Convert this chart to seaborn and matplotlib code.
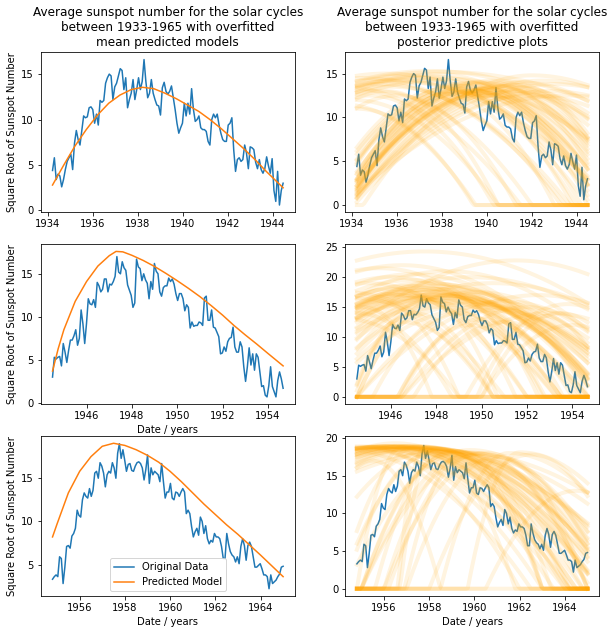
import numpy as np
import pandas as pd
import matplotlib
matplotlib.use("Agg")
import matplotlib.pyplot as plt
from matplotlib.ticker import MultipleLocator
import seaborn as sns

# ---- observed data: square root of monthly sunspot number, three cycles ----
cycle1_span = (1934.22, 1944.47)
cycle1_sqrt = [4.4, 5.8, 3.4, 4.0, 3.8, 2.6, 3.4, 4.5, 5.4, 5.8,
               6.2, 4.5, 7.4, 8.8, 7.8, 7.2, 8.8, 10.4, 10.2, 10.3,
               11.3, 11.4, 11.1, 9.6, 10.6, 9.4, 12.1, 11.9, 12.1, 14.0,
               14.6, 15.0, 14.8, 12.2, 13.6, 14.0, 14.8, 15.6, 15.4, 13.3,
               14.6, 11.3, 12.2, 12.9, 14.4, 12.2, 13.3, 14.6, 13.3, 14.2,
               16.6, 14.2, 12.4, 12.9, 14.4, 12.9, 12.2, 11.6, 11.5, 10.5,
               13.5, 14.1, 13.1, 12.8, 13.1, 13.7, 12.4, 11.1, 9.6, 8.5,
               9.1, 9.6, 11.8, 10.4, 11.8, 10.6, 13.4, 11.1, 9.8, 10.0,
               10.4, 9.1, 8.9, 8.9, 8.7, 7.6, 7.2, 10.0, 10.6, 10.2,
               10.6, 9.4, 8.5, 7.8, 7.6, 7.6, 9.4, 9.6, 10.2, 6.7,
               4.3, 5.6, 5.8, 5.4, 5.6, 7.2, 6.3, 4.6, 7.0, 6.9,
               6.7, 5.3, 4.6, 5.6, 4.5, 4.1, 4.6, 5.9, 4.9, 4.1,
               5.7, 2.2, 1.0, 4.3, 0.6, 2.2, 3.0]

cycle2_span = (1944.5, 1954.67)
cycle2_sqrt = [3.0, 5.3, 5.1, 5.3, 5.4, 4.3, 6.9, 5.9, 4.7, 6.1,
               7.3, 7.3, 7.8, 8.5, 6.7, 7.5, 10.8, 9.2, 6.9, 9.2,
               12.1, 11.5, 11.4, 12.0, 11.1, 14.0, 13.6, 12.9, 13.2, 14.4,
               14.4, 12.9, 13.8, 13.7, 14.1, 14.7, 17.0, 15.2, 15.0, 16.4,
               15.7, 15.4, 13.7, 13.1, 12.5, 11.1, 11.6, 16.7, 15.8, 15.6,
               14.2, 15.0, 14.3, 13.9, 12.1, 14.1, 13.2, 16.2, 15.3, 15.0,
               12.9, 12.4, 13.4, 13.6, 13.6, 14.5, 14.1, 14.4, 13.8, 12.7,
               11.9, 12.7, 12.7, 12.1, 10.7, 11.4, 11.1, 8.7, 9.4, 8.9,
               9.0, 9.0, 9.4, 9.3, 9.0, 12.2, 12.4, 9.6, 9.6, 10.8,
               8.8, 8.7, 8.2, 7.7, 5.7, 5.8, 6.5, 6.0, 7.1, 7.5,
               7.6, 8.8, 6.5, 5.9, 5.9, 7.1, 6.5, 4.2, 2.5, 4.2,
               6.4, 4.4, 5.7, 3.8, 5.7, 5.3, 3.6, 1.9, 2.0, 0.9,
               0.7, 2.0, 4.2, 1.9, 1.3, 0.7, 2.6, 3.6, 2.8, 1.7]

cycle3_span = (1954.8, 1965.0)
cycle3_sqrt = [3.3, 3.6, 3.8, 3.6, 5.9, 5.7, 2.8, 4.7, 7.1, 7.2,
               6.9, 8.3, 8.6, 9.2, 11.3, 10.7, 10.5, 12.5, 13.3, 12.9,
               12.7, 13.8, 12.9, 13.6, 15.6, 15.8, 15.0, 16.8, 16.4, 15.6,
               14.0, 15.4, 15.8, 15.6, 16.8, 16.2, 15.0, 17.9, 19.0, 17.3,
               18.3, 17.1, 15.8, 16.6, 16.7, 15.9, 15.8, 16.4, 16.8, 16.9,
               16.7, 16.2, 14.8, 16.0, 17.7, 14.4, 16.2, 15.4, 15.8, 15.6,
               15.4, 14.6, 16.7, 14.6, 12.7, 13.4, 13.4, 14.4, 12.7, 12.5,
               13.4, 13.3, 12.9, 13.4, 13.8, 13.4, 10.9, 11.3, 10.9, 9.4,
               8.2, 8.8, 9.2, 8.4, 10.5, 10.0, 8.6, 9.5, 8.0, 7.4,
               7.8, 7.6, 8.6, 8.2, 8.2, 8.0, 7.1, 5.7, 5.7, 8.6,
               7.4, 6.5, 6.1, 5.9, 5.3, 5.9, 5.1, 7.1, 8.0, 7.2,
               5.5, 7.2, 7.6, 7.1, 5.9, 4.7, 4.7, 4.9, 5.1, 4.5,
               3.8, 3.8, 3.6, 2.2, 3.8, 2.8, 3.0, 3.2, 3.6, 3.9,
               4.7, 4.8]

# year ticks shown under each row
cycle1_ticks = [1934, 1936, 1938, 1940, 1942, 1944]
cycle2_ticks = [1946, 1948, 1950, 1952, 1954]
cycle3_ticks = [1956, 1958, 1960, 1962, 1964]

# ---- mean predicted model ----
model1_years = [1934.22, 1934.72, 1935.22, 1935.72, 1936.22, 1936.72, 1937.22, 1937.72,
                1938.22, 1938.72, 1939.22, 1939.72, 1940.22, 1940.72, 1941.22, 1941.72,
                1942.22, 1942.72, 1943.22, 1943.72, 1944.22, 1944.47]
model1_sqrt = [2.8, 5.0, 7.1, 8.9, 10.5, 11.8, 12.7, 13.3,
               13.55, 13.4, 12.9, 12.3, 11.6, 10.9, 10.0, 9.0,
               7.9, 6.8, 5.6, 4.3, 3.1, 2.5]

model2_years = [1944.5, 1944.75, 1945.0, 1945.5, 1946.0, 1946.5, 1947.0, 1947.3,
                1947.6, 1948.0, 1948.5, 1949.0, 1949.5, 1950.0, 1950.5, 1951.0,
                1951.5, 1952.0, 1952.5, 1953.0, 1953.5, 1954.0, 1954.67]
model2_sqrt = [3.7, 6.3, 8.5, 11.8, 14.1, 15.9, 17.1, 17.6,
               17.55, 17.15, 16.55, 15.85, 15.05, 14.2, 13.3, 12.35,
               11.3, 10.2, 9.0, 7.9, 6.85, 5.75, 4.3]

model3_years = [1954.8, 1955.0, 1955.25, 1955.5, 1956.0, 1956.5, 1957.0, 1957.5,
                1958.0, 1958.5, 1959.0, 1959.5, 1960.0, 1960.5, 1961.0, 1961.5,
                1962.0, 1962.5, 1963.0, 1963.5, 1964.0, 1964.5, 1965.0]
model3_sqrt = [8.2, 9.7, 11.5, 13.3, 15.8, 17.5, 18.7, 19.05,
               18.8, 18.3, 17.65, 16.85, 15.8, 14.6, 13.3, 12.0,
               10.8, 9.6, 8.5, 7.3, 6.1, 4.85, 3.6]

# ---- posterior draws: peak year, peak height, half-width before / after peak ----
post1_peak = [1939.0, 1939.5, 1939.8, 1940.2, 1938.8, 1939.2, 1940.0, 1940.6, 1941.0, 1938.4,
              1938.0, 1939.6, 1940.3, 1939.4, 1938.6, 1934.5, 1935.5, 1936.0, 1933.5, 1935.0,
              1936.8, 1937.5, 1934.0, 1933.5, 1936.5, 1935.8, 1938.0, 1934.2, 1934.8, 1935.5,
              1936.0, 1937.0, 1942.0, 1942.5, 1941.5, 1943.0, 1942.8, 1943.5, 1941.0, 1942.0,
              1939.3, 1939.9, 1940.4, 1939.7, 1940.8, 1938.9, 1940.1, 1941.3, 1939.1, 1940.5,
              1938.2, 1941.6, 1937.0, 1936.2, 1937.8, 1935.2, 1938.5]
post1_height = [13.2, 13.0, 12.8, 12.5, 13.6, 13.4, 13.8, 13.2, 13.5, 13.0,
                12.7, 14.0, 14.2, 13.1, 12.9, 14.5, 15.0, 14.2, 13.5, 13.0,
                14.8, 15.3, 12.0, 11.5, 14.0, 13.5, 15.2, 11.0, 12.5, 13.0,
                12.5, 14.5, 12.5, 14.2, 14.0, 13.8, 13.0, 12.5, 13.0, 14.8,
                13.0, 13.3, 12.9, 12.6, 13.6, 12.8, 14.0, 13.7, 13.9, 13.4,
                13.3, 13.0, 14.6, 14.3, 14.9, 13.8, 14.4]
post1_wl = [5.6, 6.0, 6.3, 6.5, 6.2, 5.8, 6.4, 7.0, 7.4, 5.2,
            4.8, 6.8, 7.6, 5.9, 5.0, 9.0, 10.0, 9.5, 8.0, 7.0,
            11.0, 12.0, 6.5, 6.0, 8.0, 7.5, 14.0, 5.2, 5.5, 5.0,
            5.3, 9.0, 8.06, 8.6, 7.6, 9.2, 8.7, 9.8, 7.0, 7.5,
            5.4, 6.1, 6.6, 5.9, 7.2, 5.3, 6.9, 7.9, 6.4, 6.8,
            5.6, 7.6, 10.0, 9.0, 11.0, 8.0, 12.0]
post1_wr = [5.6, 6.0, 6.3, 6.5, 6.2, 6.0, 6.6, 7.0, 7.4, 5.4,
            5.0, 6.8, 7.6, 5.3, 6.5, 9.0, 10.0, 9.5, 8.0, 7.0,
            11.0, 12.0, 6.5, 6.0, 8.0, 7.5, 14.0, 5.2, 5.5, 5.0,
            5.3, 7.0, 8.06, 8.6, 7.6, 9.2, 8.7, 9.8, 7.0, 9.0,
            5.7, 6.2, 6.2, 5.8, 5.6, 6.8, 5.4, 5.0, 5.9, 5.5,
            6.0, 4.5, 8.5, 8.8, 8.0, 8.5, 7.5]

post2_peak = [1947.5, 1948.0, 1948.2, 1947.8, 1948.5, 1947.2, 1946.8, 1948.8, 1949.0, 1947.0,
              1946.5, 1948.0, 1947.6, 1948.5, 1949.0, 1949.5, 1950.0, 1947.5, 1946.5, 1951.5,
              1948.5, 1947.0, 1949.5, 1950.5, 1945.5, 1945.0, 1946.0, 1944.0, 1944.5, 1946.0,
              1948.0, 1949.0, 1950.0, 1947.5, 1949.5, 1950.5, 1948.5, 1951.0, 1952.0, 1953.0,
              1952.5, 1951.0, 1947.0, 1946.5, 1944.8, 1945.5, 1944.5, 1953.5, 1954.0, 1952.8,
              1944.0, 1953.8, 1947.9, 1948.3, 1947.4, 1948.7, 1947.1, 1948.1, 1949.2, 1946.9,
              1947.7, 1948.4, 1945.8, 1949.8]
post2_height = [17.5, 17.0, 16.5, 18.0, 16.8, 17.8, 18.5, 17.2, 16.0, 16.5,
                17.0, 18.5, 19.0, 17.0, 16.5, 15.5, 15.0, 24.3, 22.0, 22.8,
                21.0, 20.5, 20.0, 19.0, 21.5, 19.0, 20.0, 17.5, 16.5, 18.0,
                15.0, 14.0, 13.0, 16.0, 12.0, 14.5, 17.0, 12.5, 15.0, 14.0,
                17.0, 16.0, 14.0, 12.5, 15.0, 16.0, 14.0, 14.0, 12.0, 13.5,
                13.0, 15.5, 17.6, 17.3, 18.2, 16.6, 17.0, 18.8, 15.8, 19.5,
                16.2, 18.0, 17.2, 17.5]
post2_wl = [7.0, 7.5, 8.0, 7.8, 8.5, 7.2, 7.4, 9.0, 8.0, 6.5,
            6.8, 8.2, 9.0, 5.5, 6.0, 6.5, 7.0, 12.0, 9.0, 10.0,
            9.0, 8.5, 10.0, 9.5, 8.0, 7.0, 7.5, 7.0, 6.0, 6.0,
            3.5, 3.8, 3.6, 3.2, 3.2, 4.2, 4.0, 4.0, 5.5, 6.5,
            8.0, 6.5, 2.6, 2.2, 3.0, 3.5, 2.5, 3.5, 4.0, 3.0,
            5.0, 4.5, 6.8, 7.2, 7.6, 7.0, 6.0, 8.6, 6.8, 8.0,
            5.0, 9.5, 5.5, 8.0]
post2_wr = [7.0, 7.5, 8.0, 7.8, 8.5, 7.2, 7.4, 9.0, 8.0, 6.5,
            6.8, 8.2, 9.0, 5.5, 6.0, 6.5, 7.0, 12.0, 9.0, 10.0,
            9.0, 8.5, 10.0, 9.5, 8.0, 7.0, 7.5, 7.0, 6.0, 6.0,
            3.5, 3.8, 3.6, 3.2, 3.2, 4.2, 4.0, 4.0, 5.5, 6.5,
            8.0, 6.5, 3.5, 4.0, 3.0, 3.5, 4.2, 3.5, 4.0, 3.0,
            5.0, 4.5, 7.4, 7.0, 8.0, 7.8, 7.6, 7.2, 7.5, 8.2,
            7.0, 8.6, 7.5, 7.0]

post3_peak = [1956.0, 1956.5, 1957.0, 1955.5, 1955.0, 1957.5, 1956.0, 1957.2, 1956.8, 1955.8,
              1958.0, 1957.8, 1956.2, 1955.2, 1954.5, 1954.0, 1955.0, 1956.5, 1957.0, 1958.5,
              1959.0, 1962.0, 1961.5, 1959.0, 1959.5, 1960.0, 1958.5, 1960.5, 1958.0, 1959.2,
              1960.5, 1961.0, 1962.5, 1958.2, 1957.8, 1959.5, 1956.8, 1957.5, 1955.5, 1964.5,
              1956.3, 1957.4, 1956.9, 1955.6, 1957.9, 1956.6, 1957.1, 1958.3, 1959.8, 1960.2,
              1958.8, 1955.9]
post3_height = [18.9, 18.8, 18.9, 18.8, 18.7, 18.8, 18.9, 18.95, 18.85, 18.8,
                18.6, 18.7, 18.9, 18.8, 18.7, 18.6, 18.9, 19.3, 18.5, 18.3,
                18.2, 18.1, 18.0, 18.0, 17.5, 18.0, 18.5, 17.0, 17.8, 18.3,
                18.0, 17.5, 17.8, 18.6, 18.7, 18.0, 18.8, 18.9, 17.0, 13.0,
                18.85, 18.8, 18.9, 18.7, 18.75, 18.95, 18.6, 18.5, 18.4, 17.9,
                18.2, 18.9]
post3_wl = [8.5, 9.0, 9.5, 8.0, 8.0, 10.0, 9.5, 9.2, 8.8, 9.0,
            9.5, 9.0, 10.0, 9.0, 9.5, 8.5, 7.0, 7.5, 11.0, 10.5,
            11.0, 2.3, 3.0, 4.0, 3.5, 5.0, 4.5, 4.5, 3.8, 4.2,
            5.5, 4.0, 4.5, 1.5, 1.2, 2.6, 2.0, 3.5, 3.0, 4.0,
            8.8, 9.8, 9.0, 8.5, 10.5, 9.5, 7.5, 6.0, 5.5, 4.0,
            3.2, 10.5]
post3_wr = [8.5, 9.0, 9.5, 8.0, 8.0, 10.0, 9.5, 9.2, 8.8, 9.0,
            9.5, 9.0, 10.0, 9.0, 9.5, 8.5, 7.0, 7.5, 11.0, 10.5,
            11.0, 6.3, 6.5, 4.0, 3.5, 5.0, 4.5, 4.5, 3.8, 4.2,
            5.5, 4.0, 4.5, 6.0, 7.0, 6.5, 7.5, 8.0, 3.0, 4.0,
            8.2, 8.6, 9.0, 8.6, 8.3, 8.9, 9.6, 8.7, 6.8, 6.0,
            7.2, 9.3]


def posterior_frame(years, peak, height, wl, wr):
    """One row per (draw, month): clipped two-sided parabola for each draw"""
    frames = []
    for i, (p, h, a, b) in enumerate(zip(peak, height, wl, wr)):
        w = np.where(years < p, a, b)
        vals = np.clip(h * (1 - ((years - p) / w) ** 2), 0, None)
        frames.append(pd.DataFrame({"year": years, "value": vals, "draw": i}))
    return pd.concat(frames, ignore_index=True)


cycles = [
    (cycle1_span, cycle1_sqrt, model1_years, model1_sqrt, cycle1_ticks,
     (post1_peak, post1_height, post1_wl, post1_wr)),
    (cycle2_span, cycle2_sqrt, model2_years, model2_sqrt, cycle2_ticks,
     (post2_peak, post2_height, post2_wl, post2_wr)),
    (cycle3_span, cycle3_sqrt, model3_years, model3_sqrt, cycle3_ticks,
     (post3_peak, post3_height, post3_wl, post3_wr)),
]

fig, axes = plt.subplots(3, 2, figsize=(614 / 72, 634 / 72), dpi=72)
fig.subplots_adjust(left=41 / 614, right=599 / 614, bottom=1 - 596 / 634,
                    top=1 - 52.3 / 634, wspace=0.2, hspace=0.199)

for row, (span, sqrt_vals, m_years, m_vals, ticks, post) in enumerate(cycles):
    years = np.linspace(span[0], span[1], len(sqrt_vals))

    # left: data with mean predicted model
    ax = axes[row, 0]
    sns.lineplot(x=years, y=sqrt_vals, ax=ax, color="C0", legend=False,
                 label="Original Data")
    sns.lineplot(x=m_years, y=m_vals, ax=ax, color="C1", legend=False,
                 label="Predicted Model")
    ax.set_ylabel("Square Root of Sunspot Number")
    ax.set_xlabel("Date / years" if row > 0 else "")

    # right: data with posterior predictive draws on top
    ax = axes[row, 1]
    sns.lineplot(x=years, y=sqrt_vals, ax=ax, color="C0", legend=False)
    draws = posterior_frame(years, *post)
    sns.lineplot(data=draws, x="year", y="value", units="draw", estimator=None,
                 ax=ax, color="orange", alpha=0.12, lw=4, legend=False)
    ax.set_ylabel("")
    ax.set_xlabel("Date / years" if row == 2 else "")

    for a in axes[row]:
        a.set_xticks(ticks)
        a.yaxis.set_major_locator(MultipleLocator(5))

axes[2, 0].legend(loc="lower center")

axes[0, 0].set_title("Average sunspot number for the solar cycles\n"
                     "between 1933-1965 with overfitted\nmean predicted models")
axes[0, 1].set_title("Average sunspot number for the solar cycles\n"
                     "between 1933-1965 with overfitted\nposterior predictive plots")

plt.savefig("out.png", dpi=72)
